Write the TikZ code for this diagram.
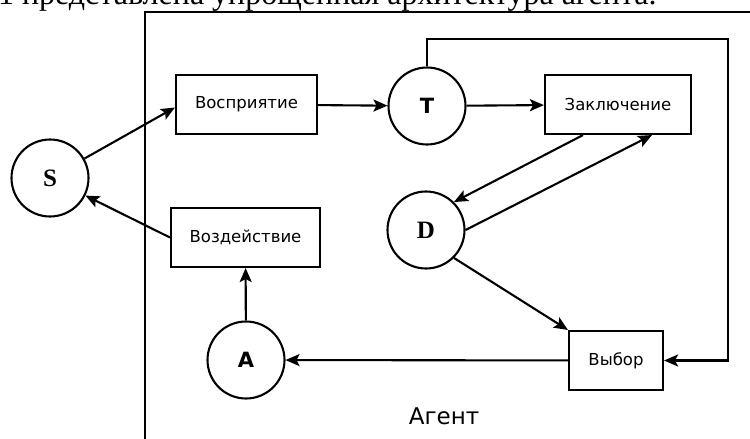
\documentclass[tikz,border=0pt]{standalone}
\usepackage{fontspec}
\setmainfont{DejaVu Sans}
\newfontfamily\boxfont{DejaVu Sans}
\newfontfamily\docfont{Liberation Serif}
\usetikzlibrary{arrows.meta,calc}
\begin{document}
\begin{tikzpicture}[x=1pt,y=-1pt,line width=2.1pt,
  arr/.style={-{Stealth[length=14pt,width=12pt,inset=3pt]}},
  circ/.style={draw,circle,minimum size=77pt,inner sep=0pt},
  blk/.style={draw,rectangle,inner sep=0pt,font=\boxfont\fontsize{16.5}{18}\selectfont},
  lets/.style={font=\docfont\bfseries\fontsize{25}{26}\selectfont},
  letsans/.style={font=\boxfont\bfseries\fontsize{21}{22}\selectfont}]
\useasboundingbox (0,0) rectangle (750,439);
\begin{scope}
\clip (0,0) rectangle (750,439);
\node[anchor=base west,inner sep=0pt,font=\docfont\fontsize{32}{34}\selectfont] (top) at (-3,5) {1 представлена упрощенная архитектура агента.};
\draw[line width=2.8pt] (145,460) -- (145,12) -- (770,12);
\end{scope}
% nodes
\node[circ,lets] (S) at (50,178) {S};
\node[blk,minimum width=141pt,minimum height=59pt] (perc) at (246.5,104.5) {Восприятие};
\node[circ,letsans] (T) at (427,106) {T};
\node[blk,minimum width=146pt,minimum height=59pt] (concl) at (618,104.5) {Заключение};
\node[circ,lets] (D) at (426,230) {D};
\node[blk,minimum width=149pt,minimum height=59pt] (act) at (245.5,237.5) {Воздействие};
\node[circ,letsans] (A) at (246,360) {A};
\node[blk,minimum width=94pt,minimum height=59pt] (choice) at (616,360.5) {Выбор};
\node[font=\boxfont\fontsize{23}{25}\selectfont] (agent) at (444,416) {Агент};
\coordinate (fb1) at (728,39);
% connectors
\draw[arr] (S) -- ($(perc.west)+(0,3)$);
\draw[arr] (act.west) -- (S);
\draw[arr] (perc) -- (T);
\draw[arr] (T) -- (concl);
\draw[arr] ($(concl.south)+(-35,0)$) -- (D.45);
\draw[arr] (D.east) -- ($(concl.south)+(34,0)$);
\draw[arr] (D.-45) -- (choice.north west);
\draw[arr] (A) -- (act);
\draw[arr] (choice) -- (A);
\draw[arr] (T.north) |- (fb1) |- (choice.east);
\end{tikzpicture}
\end{document}
